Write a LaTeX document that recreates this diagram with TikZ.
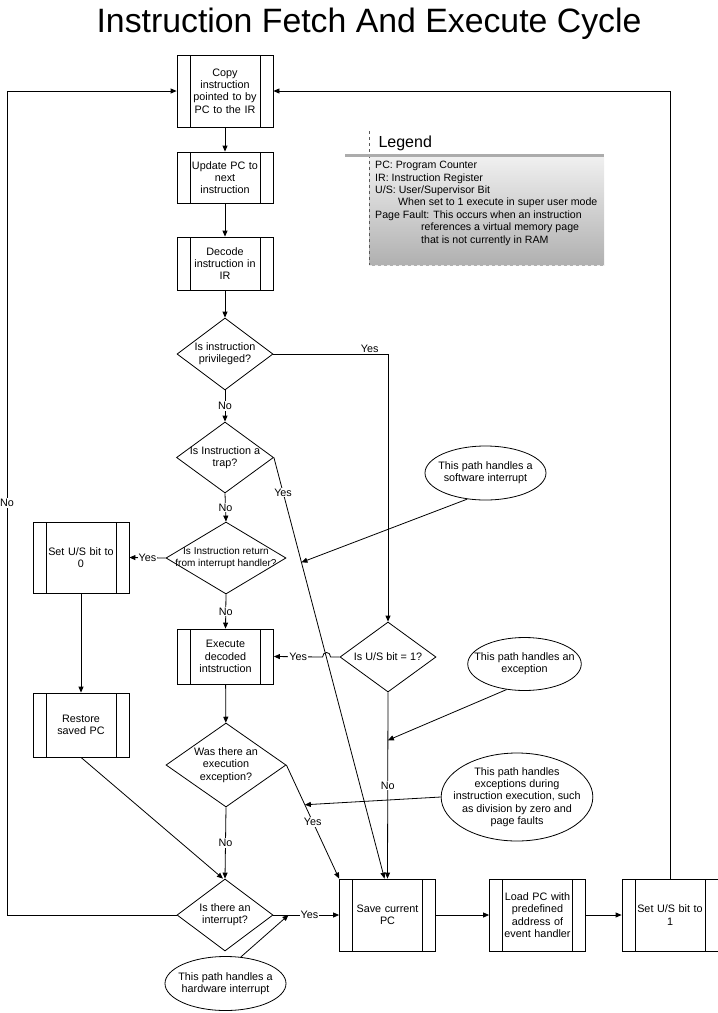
\documentclass[tikz,border=0pt]{standalone}
\usepackage{fontspec}
\setmainfont{Liberation Sans}
\usetikzlibrary{shapes.geometric,arrows.meta,calc}
\begin{document}
\begin{tikzpicture}[x=1pt,y=-1pt,
  txt/.style={font=\fontsize{10.8}{12.3}\selectfont, align=center},
  proc/.style={txt, draw, line width=0.8pt, minimum width=96pt, inner sep=0pt, text width=70pt,
    path picture={\draw[line width=0.8pt]
      ([xshift=13pt]path picture bounding box.north west) -- ([xshift=13pt]path picture bounding box.south west)
      ([xshift=-13pt]path picture bounding box.north east) -- ([xshift=-13pt]path picture bounding box.south east);}},
  dec/.style={txt, draw, line width=0.8pt, shape=diamond, inner sep=-20pt},
  note/.style={txt, draw, line width=0.8pt, shape=ellipse, inner sep=-10pt},
  arr/.style={line width=0.8pt, -{Triangle[length=6pt,width=5pt]}},
  ln/.style={line width=0.8pt},
  lbl/.style={txt, fill=white, inner sep=1pt}]
\useasboundingbox (0,0) rectangle (718,1013);

% title
\node[font=\fontsize{33.8}{36}\selectfont] (title) at (369,24) {Instruction Fetch And Execute Cycle};

% legend
\shade[top color=gray!12, bottom color=gray!62] (369,157) rectangle (604,265);
\draw[dashed, line width=0.6pt, gray!70!black] (369,131) -- (369,265);
\draw[dashed, line width=0.6pt, white!85!gray] (369,265) -- (604,265);
\draw[line width=3pt, gray!65] (345,155) -- (604,155);
\node[font=\fontsize{16}{18}\selectfont, anchor=west] (legtitle) at (375,143) {Legend};
\node[font=\fontsize{10.6}{12.4}\selectfont, align=left, anchor=north west, inner sep=0pt] (legtext) at (375,161)
  {PC: Program Counter\\
   IR: Instruction Register\\
   U/S: User/Supervisor Bit\\
   \hspace*{23pt}When set to 1 execute in super user mode\\
   Page Fault: This occurs when an instruction\\
   \hspace*{46pt}references a virtual memory page\\
   \hspace*{46pt}that is not currently in RAM};

% process boxes
\node[proc, minimum height=72pt] (copy) at (225,91) {Copy\\instruction\\pointed to by\\PC to the IR};
\node[proc, minimum height=51pt] (upd) at (225,177.5) {Update PC to\\next\\instruction};
\node[proc, minimum height=53pt] (decd) at (225,263.5) {Decode\\instruction in\\IR};
\node[proc, minimum height=71pt] (us0) at (81,557.5) {Set U/S bit to\\0};
\node[proc, minimum height=55pt] (exe) at (225.5,656.5) {Execute\\decoded\\intstruction};
\node[proc, minimum height=64pt] (rest) at (81,725) {Restore\\saved PC};
\node[proc, minimum height=72pt] (save) at (387.5,915) {Save current\\PC};
\node[proc, minimum height=72pt] (load) at (537.5,915) {Load PC with\\predefined\\address of\\event handler};
\node[proc, minimum height=72pt] (set1) at (670,915) {Set U/S bit to\\1};

% decisions
\node[dec, minimum width=96pt, minimum height=72pt] (priv) at (225,354) {Is instruction\\privileged?};
\node[dec, minimum width=97pt, minimum height=71pt] (trap) at (225,457.5) {Is Instruction a\\trap?};
\node[dec, minimum width=120pt, minimum height=72pt, font=\fontsize{10}{12.5}\selectfont] (ret) at (226,558) {Is Instruction return\\from interrupt handler?};
\node[dec, minimum width=96pt, minimum height=70pt] (usq) at (388,657) {Is U/S bit = 1?};
\node[dec, minimum width=120pt, minimum height=84pt] (execx) at (226,765) {Was there an\\execution\\exception?};
\node[dec, minimum width=96pt, minimum height=72pt] (intr) at (225,915) {Is there an\\interrupt?};

% notes
\node[note, minimum width=121pt, minimum height=54pt] (sw) at (485.5,473) {This path handles a\\software interrupt};
\node[note, minimum width=96pt, minimum height=53pt] (exa) at (524.5,664) {This path handles an\\exception};
\node[note, minimum width=150pt, minimum height=88pt] (exb) at (517,797) {This path handles\\exceptions during\\instruction execution, such\\as division by zero and\\page faults};
\node[note, minimum width=121pt, minimum height=54pt] (hw) at (225.5,983.5) {This path handles a\\hardware interrupt};

% flow
\draw[arr] (copy) -- (upd);
\draw[arr] (upd) -- (decd);
\draw[arr] (decd) -- (priv);
\draw[arr] (priv.south) -- node[lbl]{No} (trap.north);
\draw[arr] (trap.south) -- node[lbl]{No} (ret.north);
\draw[arr] (ret.south) -- node[lbl]{No} (exe.north);
\draw[arr] (ret.west) -- node[lbl]{Yes} (us0.east);
\draw[arr] (us0) -- (rest);
\draw[arr] (exe) -- (execx);
\draw[arr] (execx.south) -- node[lbl]{No} (intr.north);
\draw[arr] (priv.east) -| node[pos=0.42, txt, anchor=south, inner sep=1pt]{Yes} (usq.north);
\draw[arr] (trap.east) -- node[pos=0.083, lbl]{Yes} coordinate[pos=0.249] (swhit) ([xshift=-3pt]save.north);
\draw[arr] (usq.west) -- ++(-9,0) .. controls +(0,-6) and +(0,-6) .. ++(-8,0) -- node[lbl]{Yes} (exe.east);
\draw[arr] (usq.south) -- node[pos=0.5, lbl]{No} coordinate[pos=0.257] (exahit) (save.north);
\draw[arr] (execx.east) -- node[pos=0.5, lbl]{Yes} coordinate[pos=0.35] (exbhit) (save.north west);
\draw[arr] (intr.east) -- node[pos=0.55, lbl]{Yes} coordinate[pos=0.23] (hwhit) (save.west);
\draw[arr] (rest.south) -- ([xshift=-2pt]intr.north);
\coordinate (nocorner) at (7,915);
\draw[arr] (intr.west) -- (nocorner) |- node[pos=0.25, lbl]{No} (copy.west);
\draw[arr] (set1.north) |- (copy.east);
\draw[arr] (save) -- (load);
\draw[arr] (load) -- (set1);

% note pointers
\draw[arr] (sw.235) -- (swhit);
\draw[arr] (exa.235) -- (exahit);
\draw[arr] (exb.west) -- (exbhit);
\draw[arr] (hw.60) -- (hwhit);
\end{tikzpicture}
\end{document}
